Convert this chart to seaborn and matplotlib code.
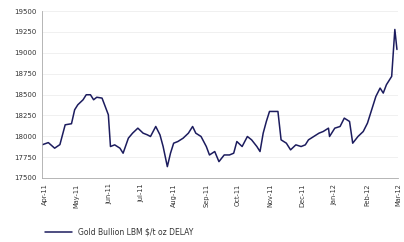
import matplotlib
matplotlib.use("Agg")
import matplotlib.pyplot as plt
import seaborn as sns
import pandas as pd

dates = ["2011-03-29", "2011-04-04", "2011-04-10", "2011-04-15", "2011-04-20", "2011-04-26",
         "2011-04-29", "2011-05-02", "2011-05-07", "2011-05-10", "2011-05-14", "2011-05-17",
         "2011-05-20", "2011-05-25", "2011-05-28", "2011-05-31", "2011-06-02", "2011-06-06",
         "2011-06-11", "2011-06-14", "2011-06-19", "2011-06-23", "2011-06-28", "2011-07-03",
         "2011-07-07", "2011-07-10", "2011-07-15", "2011-07-19", "2011-07-22", "2011-07-26",
         "2011-07-29", "2011-08-01", "2011-08-05", "2011-08-10", "2011-08-15", "2011-08-19",
         "2011-08-22", "2011-08-27", "2011-09-01", "2011-09-04", "2011-09-09", "2011-09-13",
         "2011-09-18", "2011-09-23", "2011-09-27", "2011-09-30", "2011-10-05", "2011-10-10",
         "2011-10-14", "2011-10-19", "2011-10-22", "2011-10-25", "2011-10-28", "2011-10-31",
         "2011-11-05", "2011-11-08", "2011-11-11", "2011-11-16", "2011-11-20", "2011-11-25",
         "2011-11-30", "2011-12-04", "2011-12-07", "2011-12-12", "2011-12-17", "2011-12-21",
         "2011-12-26", "2011-12-27", "2012-01-01", "2012-01-06", "2012-01-10", "2012-01-15",
         "2012-01-18", "2012-01-23", "2012-01-28", "2012-02-01", "2012-02-04", "2012-02-09",
         "2012-02-13", "2012-02-16", "2012-02-19", "2012-02-24", "2012-02-27", "2012-02-29"]
values = [17897, 17924, 17857, 17900, 18137, 18150,
          18317, 18377, 18437, 18497, 18497, 18437,
          18467, 18457, 18357, 18257, 17877, 17897,
          17857, 17797, 17977, 18037, 18097, 18037,
          18017, 17997, 18117, 18017, 17877, 17636,
          17797, 17917, 17937, 17977, 18037, 18117,
          18037, 17997, 17877, 17776, 17817, 17696,
          17776, 17776, 17797, 17937, 17877, 17997,
          17957, 17877, 17817, 18037, 18177, 18297,
          18297, 18297, 17957, 17917, 17837, 17897,
          17877, 17897, 17957, 17997, 18037, 18057,
          18097, 17997, 18097, 18117, 18217, 18177,
          17917, 17997, 18057, 18157, 18277, 18477,
          18577, 18517, 18617, 18717, 19279, 19039]
y_ticks = [17500, 17750, 18000, 18250, 18500, 18750, 19000, 19250, 19500]
month_ticks = ["2011-04-01", "2011-05-01", "2011-06-01", "2011-07-01", "2011-08-01",
               "2011-09-01", "2011-10-01", "2011-11-01", "2011-12-01", "2012-01-01",
               "2012-02-01", "2012-03-01"]
month_labels = ["Apr-11", "May-11", "Jun-11", "Jul-11", "Aug-11", "Sep-11", "Oct-11",
                "Nov-11", "Dec-11", "Jan-12", "Feb-12", "Mar-12"]
series_name = "Gold Bullion LBM $/t oz DELAY"

df = pd.DataFrame({"date": pd.to_datetime(dates), "value": values, "series": series_name})

sns.set_theme(style="white")
plt.rcParams["font.family"] = ["DejaVu Sans"]

fig = plt.figure(figsize=(4.04, 2.42), dpi=100)
ax = fig.add_axes([42 / 404, 1 - 178 / 242, 356 / 404, 167 / 242])

sns.lineplot(data=df, x="date", y="value", hue="series", palette=["#1c1c5e"],
             linewidth=1.1, ax=ax, legend=True)

ax.set_xlim(pd.Timestamp("2011-03-29"), pd.Timestamp("2012-03-01"))
ax.set_ylim(17500, 19500)
ax.set_yticks(y_ticks)
ax.set_yticklabels([f"{v}" for v in y_ticks], fontsize=5, color="#333333")
ax.set_xticks(pd.to_datetime(month_ticks))
ax.set_xticklabels(month_labels, rotation=90, fontsize=4.8, color="#333333")
ax.set_xlabel("")
ax.set_ylabel("")
ax.grid(axis="y", color="#eeeeee", linewidth=0.6)
ax.tick_params(axis="both", length=2, width=0.5, pad=2, color="#999999")
for s in ["top", "right"]:
    ax.spines[s].set_visible(False)
for s in ["left", "bottom"]:
    ax.spines[s].set_color("#aaaaaa")
    ax.spines[s].set_linewidth(0.6)

leg = ax.legend(loc="center left", bbox_to_anchor=(0.0, -(232 - 178) / 167), frameon=False,
                fontsize=5.5, handlelength=3.5, borderaxespad=0)
for t in leg.get_texts():
    t.set_color("#333333")

fig.savefig("out.png", dpi=100)
